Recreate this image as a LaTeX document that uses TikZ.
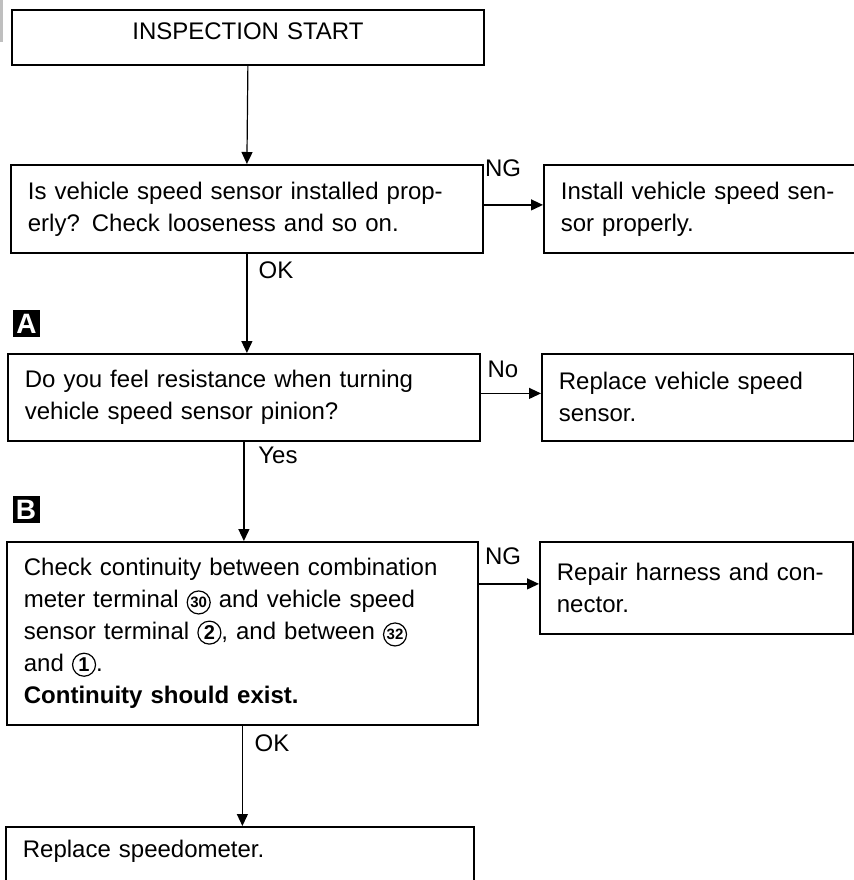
\documentclass[tikz,border=0pt]{standalone}
\usepackage{fontspec}
\setmainfont{Liberation Sans}
\usetikzlibrary{arrows.meta}

% circled terminal number
\newcommand{\circnum}[2][10]{\tikz[baseline=(cn.base)]\node[draw,circle,line width=0.6pt,inner sep=0pt,minimum size=11.5pt,font=\fontsize{#1}{#1}\selectfont\bfseries] (cn) {#2};}

\begin{document}
\begin{tikzpicture}[x=0.5pt, y=-0.5pt,
    font=\fontsize{12}{16}\selectfont,
    box/.style={draw, line width=0.9pt, anchor=north west, align=left, inner xsep=8.5pt, inner ysep=0pt},
    link/.style={line width=0.6pt, -{Triangle[length=6pt,width=5.5pt]}},
    lbl/.style={inner sep=0pt},
    secbox/.style={fill=black, text=white, minimum size=13.5pt, inner sep=0pt, font=\fontsize{14}{14}\selectfont\bfseries}]
    \useasboundingbox (0,0) rectangle (854,880);
    \clip (0,0) rectangle (854,880);
    \draw[gray!50, line width=1.5pt] (1.5,0) -- (1.5,42);

    % main column
    \node[box, align=center, text width=219pt, minimum height=27.5pt, text depth=6pt] (start) at (11,9) {INSPECTION START};
    \node[box, text width=219pt, minimum height=44pt] (install) at (10,164)
        {Is vehicle speed sensor installed prop-\\erly? Check looseness and so on.};
    \node[box, text width=219pt, minimum height=43.5pt] (resist) at (7,353)
        {Do you feel resistance when turning\\vehicle speed sensor pinion?};
    \node[box, text width=218.5pt, minimum height=91.5pt] (cont) at (6,541)
        {Check continuity between combination\\
         meter terminal \circnum[7.5]{30} and vehicle speed\\
         sensor terminal \circnum{2}, and between \circnum[7.5]{32}\\
         and \circnum{1}.\\
         \textbf{Continuity should exist.}};
    \node[box, text width=217pt, inner ysep=6.5pt, text depth=40pt] (speedo) at (5,826) {Replace speedometer.};

    % remedies
    \node[box, text width=140.5pt, minimum height=44pt] (installr) at (543,164)
        {Install vehicle speed sen-\\sor properly.};
    \node[box, text width=139pt, minimum height=43.5pt] (resistr) at (541,353)
        {Replace vehicle speed\\sensor.};
    \node[box, text width=139.5pt, minimum height=46pt] (contr) at (539,541)
        {Repair harness and con-\\nector.};

    % section marks
    \node[secbox] (secA) at (26.5,323.5) {A};
    \node[secbox] (secB) at (26,509.5) {B};

    % connectors
    \draw[link] (start.south) -- (install.north);
    \draw[link] (install.south) -- (install.south |- resist.north);
    \draw[link] (resist.south) -- (resist.south |- cont.north);
    \draw[link] (cont.south) -- (cont.south |- speedo.north);
    \draw[link] ([yshift=2pt]installr.west -| install.east) -- ([yshift=2pt]installr.west);
    \draw[link] ([yshift=2pt]resistr.west -| resist.east) -- ([yshift=2pt]resistr.west);
    \draw[link] ([yshift=2pt]contr.west -| cont.east) -- ([yshift=2pt]contr.west);

    % branch labels
    \node[lbl] (ok1) at (276,270) {OK};
    \node[lbl] (yes) at (278,455) {Yes};
    \node[lbl] (ok2) at (272,743) {OK};
    \node[lbl] (ng1) at (503,168) {NG};
    \node[lbl] (no) at (503,369) {No};
    \node[lbl] (ng2) at (503,556) {NG};
\end{tikzpicture}
\end{document}
